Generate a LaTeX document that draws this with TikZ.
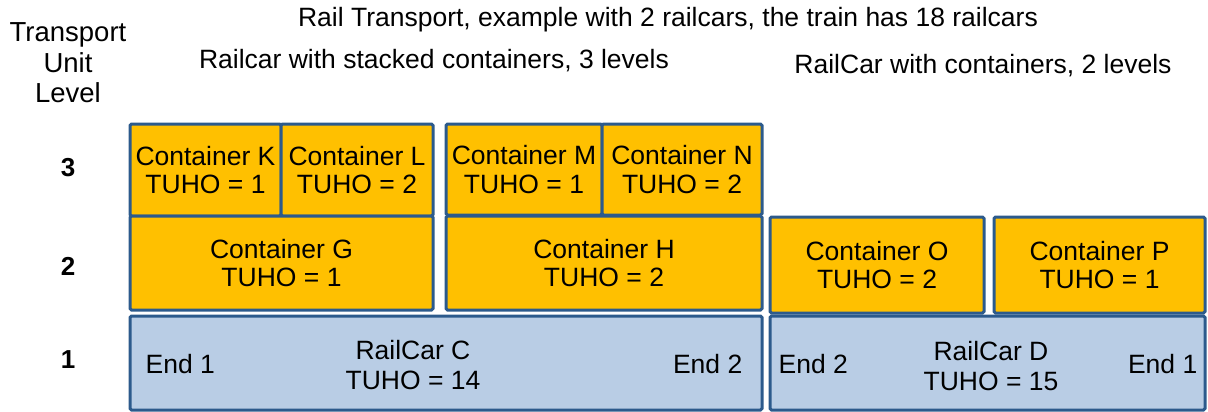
\documentclass[tikz,border=0pt]{standalone}
\usepackage{fontspec}
\setmainfont{Liberation Sans}
\definecolor{contfill}{HTML}{FFC000}
\definecolor{carfill}{HTML}{B9CDE5}
\definecolor{edgeblue}{HTML}{2C5A8C}
\begin{document}
\begin{tikzpicture}[x=1pt,y=-1pt,
  box/.style={draw=edgeblue, line width=3pt, rounded corners=1.5pt, inner sep=0pt, align=center,
    font=\fontsize{26.5}{28.5}\selectfont},
  cont/.style={box, fill=contfill},
  car/.style={box, fill=carfill},
  lbl/.style={inner sep=0pt, align=center, font=\fontsize{26.5}{30}\selectfont},
  lvl/.style={inner sep=0pt, font=\fontsize{26}{30}\selectfont\bfseries}
]
\useasboundingbox (0,0) rectangle (1208,412);
% titles
\node[lbl] (title) at (668,20) {Rail Transport, example with 2 railcars, the train has 18 railcars};
\node[lbl] (sub1) at (434,61) {Railcar with stacked containers, 3 levels};
\node[lbl] (sub2) at (983,66) {RailCar with containers, 2 levels};
\node[lbl, font=\fontsize{27.5}{30.5}\selectfont] (tul) at (68,63) {Transport\\Unit\\Level};
\node[lvl] (l3) at (68,168) {3};
\node[lvl] (l2) at (68,266) {2};
\node[lvl] (l1) at (68,360) {1};
% level 3
\node[cont, minimum width=151pt, minimum height=92pt] (K) at (205.5,170) {Container K\\TUHO = 1};
\node[cont, minimum width=152pt, minimum height=92pt] (L) at (357,170) {Container L\\TUHO = 2};
\node[cont, minimum width=156pt, minimum height=91pt] (M) at (524,169.5) {Container M\\TUHO = 1};
\node[cont, minimum width=160pt, minimum height=91pt] (N) at (682,169.5) {Container N\\TUHO = 2};
% level 2
\node[cont, minimum width=303pt, minimum height=94pt] (G) at (281.5,263) {Container G\\TUHO = 1};
\node[cont, minimum width=316pt, minimum height=94pt] (H) at (604,263) {Container H\\TUHO = 2};
\node[cont, minimum width=214pt, minimum height=96pt] (O) at (877,265) {Container O\\TUHO = 2};
\node[cont, minimum width=211pt, minimum height=96pt] (P) at (1099.5,265) {Container P\\TUHO = 1};
% level 1
\node[car, minimum width=632pt, minimum height=94pt] (C) at (446,363) {};
\node[car, minimum width=435pt, minimum height=94pt] (D) at (987.5,363) {};
\node[lbl, font=\fontsize{26.5}{30}\selectfont] (Ct) at (413,365) {RailCar C\\TUHO = 14};
\node[lbl, font=\fontsize{26.5}{30}\selectfont] (Dt) at (991,366) {RailCar D\\TUHO = 15};
\node[lbl, anchor=west] (C1) at ([xshift=17pt,yshift=-1pt]C.west) {End 1};
\node[lbl, anchor=east] (C2) at ([xshift=-21pt,yshift=-1pt]C.east) {End 2};
\node[lbl, anchor=west] (D2) at ([xshift=10pt,yshift=-1pt]D.west) {End 2};
\node[lbl, anchor=east] (D1) at ([xshift=-9pt,yshift=-1pt]D.east) {End 1};
\end{tikzpicture}
\end{document}
